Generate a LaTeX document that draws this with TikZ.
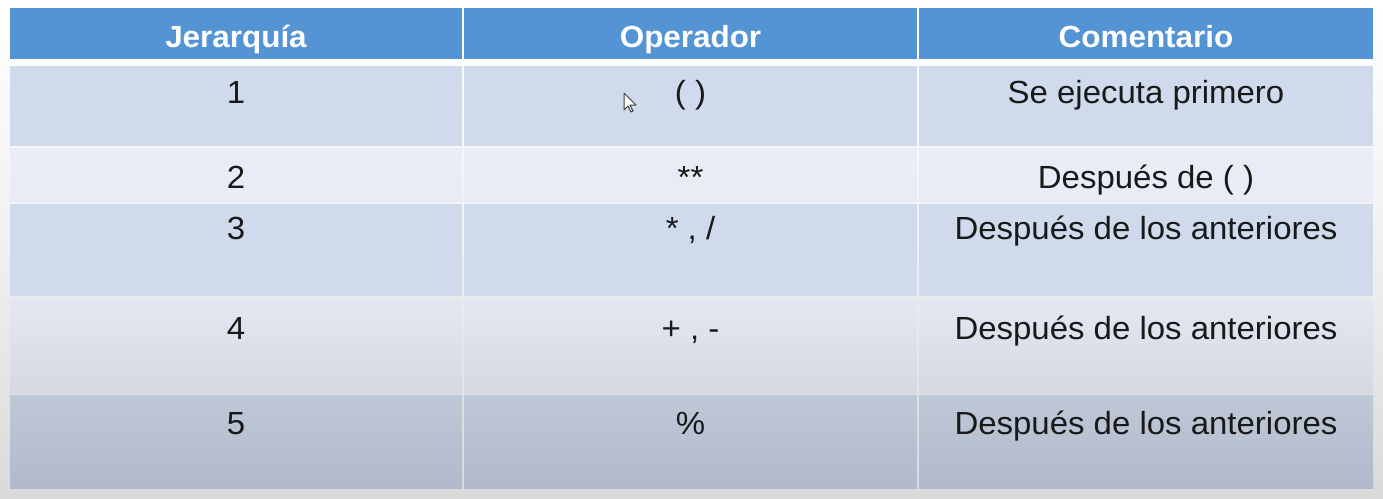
\documentclass[tikz,border=0pt]{standalone}
\usepackage{fontspec}
\setmainfont{Liberation Sans}[FakeStretch=1.03]
\definecolor{hdr}{RGB}{84,148,212}
\definecolor{rowa}{RGB}{207,219,236}
\definecolor{rowb}{RGB}{232,236,246}
\definecolor{rowdtop}{RGB}{229,232,241}
\definecolor{rowdbot}{RGB}{212,216,226}
\definecolor{rowetop}{RGB}{191,200,215}
\definecolor{rowebot}{RGB}{176,186,203}
\definecolor{bgbot}{RGB}{218,218,218}
\definecolor{ink}{RGB}{25,25,25}
\begin{document}
\begin{tikzpicture}[x=1pt,y=-1pt,
  hd/.style={anchor=base,text=white,font=\fontsize{30.5}{36}\selectfont\bfseries,inner sep=0pt},
  cell/.style={anchor=base,text=ink,font=\fontsize{32}{38}\selectfont,inner sep=0pt}]
\useasboundingbox (0,0) rectangle (1383,498);
\shade[top color=white,bottom color=bgbot,middle color=white!60!bgbot] (0,0) rectangle (1383,498);
% header
\fill[hdr] (10,8) rectangle (462,59);
\fill[hdr] (464,8) rectangle (917,59);
\fill[hdr] (919,8) rectangle (1373,59);
% body rows
\foreach \a/\b in {10/462,464/917,919/1373}{
  \fill[rowa] (\a,66) rectangle (\b,146);
  \fill[rowb] (\a,148) rectangle (\b,202);
  \fill[rowa] (\a,204) rectangle (\b,296);
  \shade[top color=rowdtop,bottom color=rowdbot] (\a,298) rectangle (\b,393);
  \shade[top color=rowetop,bottom color=rowebot] (\a,395) rectangle (\b,488);
}
% header texts
\node[hd] (h1) at (236,47) {Jerarquía};
\node[hd] (h2) at (690.5,47) {Operador};
\node[hd] (h3) at (1146,47) {Comentario};
% column 1
\node[cell] (j1) at (236,103) {1};
\node[cell] (j2) at (236,188) {2};
\node[cell] (j3) at (236,239) {3};
\node[cell] (j4) at (236,339) {4};
\node[cell] (j5) at (236,434) {5};
% column 2
\node[cell] (o1) at (690.5,103) {( )};
\node[cell] (o2) at (690.5,188) {**};
\node[cell] (o3) at (690.5,239) {* , /};
\node[cell] (o4) at (690.5,339) {+ , -};
\node[cell] (o5) at (690.5,434) {\%};
% column 3
\node[cell] (c1) at (1146,103) {Se ejecuta primero};
\node[cell] (c2) at (1146,188) {Después de ( )};
\node[cell] (c3) at (1146,239) {Después de los anteriores};
\node[cell] (c4) at (1146,339) {Después de los anteriores};
\node[cell] (c5) at (1146,434) {Después de los anteriores};
% mouse cursor
\filldraw[fill=white,draw=black!75,line width=1pt,line join=round]
  (624,93) -- (624,110) -- (628,106) -- (631,112) -- (633,111) -- (630,105) -- (636,105) -- cycle;
\end{tikzpicture}
\end{document}
